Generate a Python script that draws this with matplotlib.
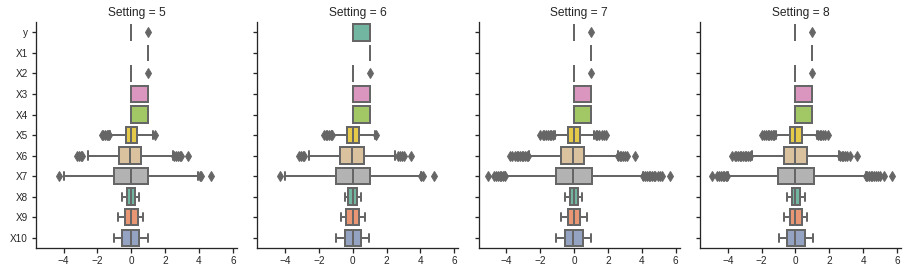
import matplotlib

matplotlib.use("Agg")
import matplotlib.pyplot as plt
import seaborn as sns

sns.set_style("ticks")
plt.rcParams["font.family"] = ["Liberation Sans", "DejaVu Sans"]

settings = [5, 6, 7, 8]
variables = ["y", "X1", "X2", "X3", "X4", "X5", "X6", "X7", "X8", "X9", "X10"]

# box statistics per setting (rows) and variable (columns)
q1 = [
    [0, 1, 0, 0, 0, -0.30, -0.73, -1.00, -0.27, -0.40, -0.55],
    [0, 1, 0, 0, 0, -0.31, -0.73, -1.00, -0.25, -0.37, -0.48],
    [0, 1, 0, 0, 0, -0.35, -0.76, -1.05, -0.27, -0.35, -0.52],
    [0, 1, 0, 0, 0, -0.33, -0.66, -1.05, -0.23, -0.33, -0.52],
]
med = [
    [0, 1, 0, 1, 1, 0.00, -0.10, 0.00, 0.00, -0.02, 0.00],
    [0, 1, 0, 1, 1, 0.03, -0.04, 0.00, 0.00, 0.00, 0.00],
    [0, 1, 0, 1, 1, 0.00, -0.08, -0.04, -0.02, -0.02, -0.04],
    [0, 1, 0, 1, 1, 0.00, -0.04, 0.00, 0.00, 0.00, 0.00],
]
q3 = [
    [0, 1, 0, 1, 1, 0.33, 0.57, 1.01, 0.23, 0.38, 0.46],
    [1, 1, 0, 1, 1, 0.35, 0.65, 1.04, 0.27, 0.40, 0.48],
    [0, 1, 0, 1, 1, 0.33, 0.60, 1.03, 0.25, 0.37, 0.50],
    [0, 1, 0, 1, 1, 0.39, 0.68, 1.09, 0.25, 0.37, 0.56],
]
whislo = [
    [0, 1, 0, 0, 0, -1.24, -2.58, -4.00, -0.55, -0.77, -1.00],
    [0, 1, 0, 0, 0, -1.20, -2.60, -4.00, -0.48, -0.71, -0.98],
    [0, 1, 0, 0, 0, -1.15, -2.66, -4.06, -0.56, -0.76, -1.05],
    [0, 1, 0, 0, 0, -1.15, -2.56, -4.00, -0.52, -0.68, -0.97],
]
whishi = [
    [0, 1, 0, 1, 1, 1.28, 2.49, 3.96, 0.44, 0.70, 0.96],
    [1, 1, 0, 1, 1, 1.30, 2.52, 4.02, 0.52, 0.71, 0.98],
    [0, 1, 0, 1, 1, 1.18, 2.58, 4.10, 0.49, 0.76, 1.01],
    [0, 1, 0, 1, 1, 1.26, 2.58, 4.14, 0.54, 0.70, 1.03],
]
fliers = [
    [[1], [], [1], [], [],
     [-1.75, -1.65, -1.55, -1.45, -1.38, -1.32, 1.38],
     [-3.2, -3.1, -3.0, -2.9, 2.55, 2.65, 2.75, 2.85, 2.93, 3.37],
     [-4.3, 4.05, 4.1, 4.7], [], [], []],
    [[], [], [1], [], [],
     [-1.7, -1.6, -1.5, -1.4, -1.3, -1.25, 1.38],
     [-3.15, -3.05, -2.95, -2.87, 2.7, 2.8, 2.9, 3.04, 3.46],
     [-4.3, 4.06, 4.15, 4.8], [], [], []],
    [[1], [], [1], [], [],
     [-2.0, -1.85, -1.75, -1.65, -1.55, -1.45, -1.35, -1.25,
      1.28, 1.38, 1.5, 1.62, 1.75, 1.86],
     [-3.77, -3.65, -3.5, -3.4, -3.3, -3.2, -3.1, -3.0, -2.9, -2.8, -2.7,
      2.6, 2.7, 2.8, 2.9, 3.0, 3.1, 3.6],
     [-5.09, -4.74, -4.6, -4.5, -4.4, -4.3, -4.2, -4.1,
      4.1, 4.2, 4.3, 4.4, 4.5, 4.6, 4.7, 4.8, 4.95, 5.05, 5.17, 5.65],
     [], [], []],
    [[1], [], [1], [], [],
     [-1.98, -1.85, -1.75, -1.65, -1.55, -1.45, -1.35, -1.25,
      1.32, 1.42, 1.52, 1.62, 1.75, 1.9],
     [-3.73, -3.6, -3.5, -3.4, -3.3, -3.2, -3.1, -3.0, -2.9, -2.8, -2.7,
      2.62, 2.72, 2.82, 2.92, 3.02, 3.2, 3.65],
     [-4.95, -4.64, -4.5, -4.4, -4.3, -4.2, -4.1, -4.02,
      4.14, 4.25, 4.35, 4.45, 4.55, 4.65, 4.75, 4.87, 5.0, 5.24, 5.69],
     [], [], []],
]

palette = [sns.desaturate(c, 0.75) for c in sns.color_palette("Set2", 8)]
colors = [palette[i % 8] for i in range(len(variables))]
gray = "#666666"
lw = 2.0

fig, axes = plt.subplots(1, 4, figsize=(910 / 72, 276 / 72), dpi=72,
                         sharex=True, sharey=True)
fig.subplots_adjust(left=0.0396, right=0.99, top=0.92, bottom=0.1014, wspace=0.103)

for k, ax in enumerate(axes):
    stats = []
    for j, name in enumerate(variables):
        stats.append(dict(label=name, med=med[k][j], q1=q1[k][j], q3=q3[k][j],
                          whislo=whislo[k][j], whishi=whishi[k][j],
                          fliers=fliers[k][j]))
    bp = ax.bxp(stats, positions=range(len(variables)), widths=0.8,
                orientation="horizontal", patch_artist=True,
                boxprops=dict(edgecolor=gray, linewidth=lw),
                whiskerprops=dict(color=gray, linewidth=lw),
                capprops=dict(color=gray, linewidth=lw),
                medianprops=dict(color=gray, linewidth=lw),
                flierprops=dict(marker="d", markerfacecolor=gray,
                                markeredgecolor=gray, markersize=7,
                                linestyle="none"))
    for box, c in zip(bp["boxes"], colors):
        box.set_facecolor(c)
    ax.set_title(f"Setting = {settings[k]}", fontsize=12)
    ax.set_ylim(len(variables) - 0.5, -0.5)
    ax.tick_params(labelsize=10, length=4.5, width=1.3)
    for sp in ax.spines.values():
        sp.set_linewidth(1.3)

axes[0].set_yticks(range(len(variables)))
axes[0].set_yticklabels(variables)
axes[0].set_xticks([-4, -2, 0, 2, 4, 6])
sns.despine(fig)

fig.savefig("out.png", dpi=72)
